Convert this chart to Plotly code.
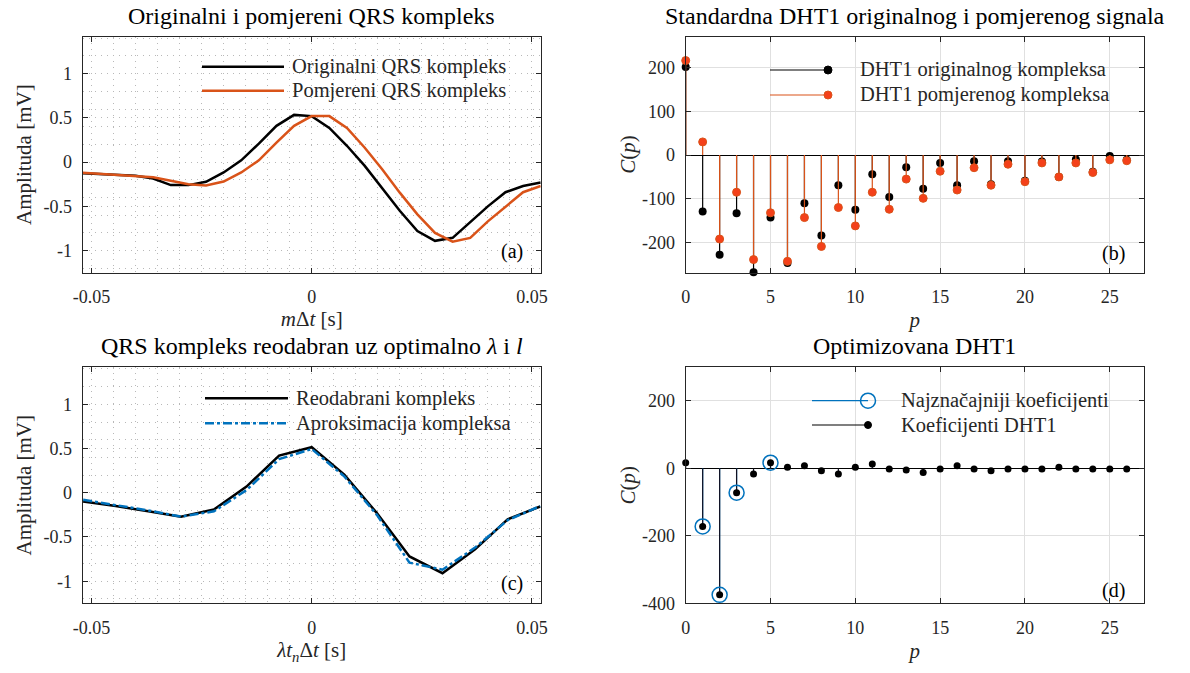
import plotly.graph_objects as go

W, H = 1190, 673
FONT = "Liberation Serif, Times New Roman, serif"
INK = "#262626"
ORANGE = "#d95319"
ORANGE_FACE = "#f4401a"
BLUE = "#0072bd"

# ---------------- data ----------------
t_a = [-0.052, -0.048, -0.044, -0.040, -0.036, -0.032, -0.028, -0.024, -0.020,
       -0.016, -0.012, -0.008, -0.004, 0.0, 0.004, 0.008, 0.012, 0.016, 0.020,
       0.024, 0.028, 0.032, 0.036, 0.040, 0.044, 0.048, 0.052]
orig_a = [-0.125, -0.136, -0.144, -0.155, -0.186, -0.26, -0.26, -0.223, -0.117,
          0.02, 0.21, 0.41, 0.534, 0.52, 0.386, 0.185, -0.04, -0.29, -0.55,
          -0.78, -0.89, -0.856, -0.68, -0.50, -0.34, -0.27, -0.23]
shift_a = [-0.12, -0.133, -0.142, -0.155, -0.17, -0.21, -0.25, -0.265, -0.22,
           -0.117, 0.02, 0.22, 0.41, 0.52, 0.52, 0.386, 0.165, -0.08, -0.345,
           -0.59, -0.80, -0.90, -0.856, -0.67, -0.50, -0.34, -0.27]

t_c = [-0.0519, -0.0445, -0.0371, -0.0297, -0.0222, -0.0148, -0.0074, 0.0,
       0.0074, 0.0148, 0.0222, 0.0297, 0.0371, 0.0445, 0.0519]
reod_c = [-0.10, -0.15, -0.21, -0.27, -0.19, 0.07, 0.42, 0.515, 0.205, -0.23,
          -0.72, -0.91, -0.64, -0.30, -0.155]
aprox_c = [-0.08, -0.14, -0.20, -0.27, -0.21, 0.03, 0.38, 0.495, 0.185, -0.25,
           -0.79, -0.87, -0.62, -0.31, -0.15]

p_idx = [0, 1, 2, 3, 4, 5, 6, 7, 8, 9, 10, 11, 12, 13, 14, 15, 16, 17, 18, 19,
         20, 21, 22, 23, 24, 25, 26]
dht_orig = [201, -129, -228, -133, -268, -143, -247, -110, -184, -69, -125, -44,
            -96, -28, -77, -18, -69, -14, -67, -14, -59, -15, -50, -10, -38, -2, -11]
dht_shift = [216, 30, -192, -85, -239, -132, -243, -143, -209, -120, -162, -85,
             -124, -55, -99, -37, -80, -29, -69, -21, -61, -18, -50, -18, -40, -11, -13]
dht_opt = [17, -172, -375, -72, -17, 17, 3, 8, -7, -17, 3, 13, -2, -5, -12, -2,
           8, -2, -7, -2, -2, -2, 3, -2, -2, -2, -2]
sig_p = [1, 2, 3, 5]

tick_t = [-0.05, 0, 0.05]
tick_t_text = ["-0.05", "0", "0.05"]
tick_amp = [-1, -0.5, 0, 0.5, 1]
tick_amp_text = ["-1", "-0.5", "0", "0.5", "1"]
tick_p = [0, 5, 10, 15, 20, 25]
tick_cb = [-200, -100, 0, 100, 200]
tick_cb_text = ["-200", "-100", "0", "100", "200"]
tick_cd = [-400, -200, 0, 200]
tick_cd_text = ["-400", "-200", "0", "200"]

titles = ["Originalni i pomjereni QRS kompleks",
          "Standardna DHT1 originalnog i pomjerenog signala",
          "QRS kompleks reodabran uz optimalno <i>λ</i> i <i>l</i>",
          "Optimizovana DHT1"]
legend_a = ["Originalni QRS kompleks", "Pomjereni QRS kompleks"]
legend_b = ["DHT1 originalnog kompleksa", "DHT1 pomjerenog kompleksa"]
legend_c = ["Reodabrani kompleks", "Aproksimacija kompleksa"]
legend_d = ["Najznačajniji koeficijenti", "Koeficijenti DHT1"]
panel_tags = ["(a)", "(b)", "(c)", "(d)"]


def stems(xs, ys):
    sx, sy = [], []
    for x, y in zip(xs, ys):
        sx += [x, x, None]
        sy += [0, y, None]
    return sx, sy


def PX(x):
    return x / W


def PY(y):
    return 1 - y / H


fig = go.Figure()

# (a)
fig.add_trace(go.Scatter(x=t_a, y=orig_a, mode="lines", name=legend_a[0],
                         line=dict(color="black", width=2.5), xaxis="x", yaxis="y", showlegend=False))
fig.add_trace(go.Scatter(x=t_a, y=shift_a, mode="lines", name=legend_a[1],
                         line=dict(color=ORANGE, width=2.5), xaxis="x", yaxis="y", showlegend=False))

# (b)
sx, sy = stems(p_idx, dht_orig)
fig.add_trace(go.Scatter(x=sx, y=sy, mode="lines", line=dict(color="black", width=1.2),
                         xaxis="x2", yaxis="y2", showlegend=False, hoverinfo="skip"))
fig.add_trace(go.Scatter(x=p_idx, y=dht_orig, mode="markers", name=legend_b[0],
                         marker=dict(color="black", size=8), cliponaxis=False,
                         xaxis="x2", yaxis="y2", showlegend=False))
sx, sy = stems(p_idx, dht_shift)
fig.add_trace(go.Scatter(x=sx, y=sy, mode="lines", line=dict(color=ORANGE, width=1.2),
                         xaxis="x2", yaxis="y2", showlegend=False, hoverinfo="skip"))
fig.add_trace(go.Scatter(x=p_idx, y=dht_shift, mode="markers", name=legend_b[1],
                         marker=dict(color=ORANGE_FACE, size=8, line=dict(color=ORANGE, width=1)),
                         cliponaxis=False, xaxis="x2", yaxis="y2", showlegend=False))

# (c)
fig.add_trace(go.Scatter(x=t_c, y=reod_c, mode="lines", name=legend_c[0],
                         line=dict(color="black", width=2.5), xaxis="x3", yaxis="y3", showlegend=False))
fig.add_trace(go.Scatter(x=t_c, y=aprox_c, mode="lines", name=legend_c[1],
                         line=dict(color=BLUE, width=2.5, dash="9px,3px,3px,3px"),
                         xaxis="x3", yaxis="y3", showlegend=False))

# (d)
sig_v = [dht_opt[p_idx.index(k)] for k in sig_p]
sx, sy = stems(sig_p, sig_v)
fig.add_trace(go.Scatter(x=sx, y=sy, mode="lines", line=dict(color=BLUE, width=1.2),
                         xaxis="x4", yaxis="y4", showlegend=False, hoverinfo="skip"))
sx, sy = stems(p_idx, dht_opt)
fig.add_trace(go.Scatter(x=sx, y=sy, mode="lines", line=dict(color="#111122", width=1.2),
                         xaxis="x4", yaxis="y4", showlegend=False, hoverinfo="skip"))
fig.add_trace(go.Scatter(x=sig_p, y=sig_v, mode="markers", name=legend_d[0],
                         marker=dict(symbol="circle-open", color=BLUE, size=15, line=dict(width=1.5)),
                         cliponaxis=False, xaxis="x4", yaxis="y4", showlegend=False))
fig.add_trace(go.Scatter(x=p_idx, y=dht_opt, mode="markers", name=legend_d[1],
                         marker=dict(color="black", size=7), cliponaxis=False,
                         xaxis="x4", yaxis="y4", showlegend=False))

XA = [PX(82.7), PX(540.7)]
XB = [PX(685.7), PX(1143.7)]
YT = [PY(272.7), PY(36.5)]
YB = [PY(603.3), PY(367.2)]

base = dict(showline=True, linecolor=INK, linewidth=1, mirror="ticks", ticks="inside",
            ticklen=5, tickcolor=INK, tickwidth=1, zeroline=False, automargin=False,
            tickfont=dict(family=FONT, size=18, color=INK),
            title_font=dict(family=FONT, size=21, color=INK))
DOT = "1px,5px"
DOTC = "#b8b8b8"

x_time = dict(base, range=[-0.052, 0.052], tickmode="array", tickvals=tick_t, ticktext=tick_t_text,
              showgrid=True, gridcolor=DOTC, griddash=DOT, gridwidth=1,
              minor=dict(tick0=0, dtick=0.005, showgrid=True, gridcolor=DOTC, griddash=DOT, gridwidth=1),
              ticklabelstandoff=8, title_standoff=5)
y_amp = dict(base, range=[-1.25, 1.42], tickmode="array", tickvals=tick_amp, ticktext=tick_amp_text,
             showgrid=True, gridcolor=DOTC, griddash=DOT, gridwidth=1,
             minor=dict(tick0=0, dtick=0.2, showgrid=True, gridcolor=DOTC, griddash=DOT, gridwidth=1),
             ticklabelstandoff=6, title_standoff=6)
x_p = dict(base, range=[0, 27], tickmode="array", tickvals=tick_p,
           showgrid=True, gridcolor="#e0e0e0", gridwidth=1.2,
           ticklabelstandoff=8, title_standoff=6)
y_c = dict(base, showgrid=True, gridcolor="#e0e0e0", gridwidth=1.2,
           zeroline=True, zerolinecolor="black", zerolinewidth=1.2,
           ticklabelstandoff=6, title_standoff=0)

fig.update_layout(
    template="none",
    width=W, height=H, margin=dict(l=0, r=0, t=0, b=0, pad=0, autoexpand=False),
    paper_bgcolor="white", plot_bgcolor="white", showlegend=False,
    font=dict(family=FONT, color=INK),
    xaxis=dict(x_time, domain=XA, anchor="y", title_text="<i>m</i>Δ<i>t</i> [s]"),
    yaxis=dict(y_amp, domain=YT, anchor="x", title_text="Amplituda [mV]"),
    xaxis2=dict(x_p, domain=XB, anchor="y2", title_text="<i>p</i>"),
    yaxis2=dict(y_c, domain=YT, anchor="x2", range=[-269, 271], tickmode="array",
                tickvals=tick_cb, ticktext=tick_cb_text, title_text="<i>C</i>(<i>p</i>)"),
    xaxis3=dict(x_time, domain=XA, anchor="y3", title_text="<i>λt<sub>n</sub></i>Δ<i>t</i> [s]"),
    yaxis3=dict(y_amp, domain=YB, anchor="x3", title_text="Amplituda [mV]"),
    xaxis4=dict(x_p, domain=XB, anchor="y4", title_text="<i>p</i>"),
    yaxis4=dict(y_c, domain=YB, anchor="x4", range=[-400, 300], tickmode="array",
                tickvals=tick_cd, ticktext=tick_cd_text, title_text="<i>C</i>(<i>p</i>)"),
)

ann = []
shapes = []
# subplot titles
for txt, cx, cy in zip(titles, [311.7, 914.7, 311.7, 914.7], [16, 16, 346, 346]):
    ann.append(dict(text=txt, x=PX(cx), y=PY(cy), xref="paper", yref="paper",
                    xanchor="center", yanchor="middle", showarrow=False,
                    font=dict(family=FONT, size=24, color="black")))
# panel tags
for txt, cx, cy in zip(panel_tags, [512, 1113, 512, 1113], [251, 253, 583, 590]):
    ann.append(dict(text=txt, x=PX(cx), y=PY(cy), xref="paper", yref="paper",
                    xanchor="center", yanchor="middle", showarrow=False,
                    font=dict(family=FONT, size=20, color="black")))


def leg_text(txt, x, y):
    ann.append(dict(text=txt, x=PX(x), y=PY(y), xref="paper", yref="paper",
                    xanchor="left", yanchor="middle", showarrow=False,
                    font=dict(family=FONT, size=20.5, color=INK)))


def leg_line(x0, x1, y, color, width, dash="solid"):
    shapes.append(dict(type="line", xref="paper", yref="paper", x0=PX(x0), x1=PX(x1),
                       y0=PY(y), y1=PY(y), line=dict(color=color, width=width, dash=dash)))


def leg_dot(x, y, d, fill, edge, lw=1):
    shapes.append(dict(type="circle", xref="paper", yref="paper", xsizemode="pixel",
                       ysizemode="pixel", xanchor=PX(x), yanchor=PY(y),
                       x0=-d / 2, x1=d / 2, y0=-d / 2, y1=d / 2,
                       fillcolor=fill, line=dict(color=edge, width=lw)))


# legend (a)
leg_line(202, 284, 66.7, "black", 2.5)
leg_line(202, 284, 90.7, ORANGE, 2.5)
leg_text(legend_a[0], 290, 66.7)
leg_text(legend_a[1], 290, 90.7)
# legend (b)
leg_line(770, 828, 70, "black", 1.2)
leg_dot(828, 70, 8, "black", "black")
leg_line(770, 828, 95, ORANGE, 1.2)
leg_dot(828, 95, 8, ORANGE_FACE, ORANGE)
leg_text(legend_b[0], 858, 70)
leg_text(legend_b[1], 858, 95)
# legend (c)
leg_line(205, 288, 398.3, "black", 2.5)
leg_line(205, 288, 423.3, BLUE, 2.5, "9px,3px,3px,3px")
leg_text(legend_c[0], 294, 398.3)
leg_text(legend_c[1], 294, 423.3)
# legend (d)
leg_line(812, 868, 400.7, BLUE, 1.2)
leg_dot(868, 400.7, 15, "rgba(0,0,0,0)", BLUE, 1.5)
leg_line(812, 868, 425, "black", 1.2)
leg_dot(868, 425, 7, "black", "black")
leg_text(legend_d[0], 899, 400.7)
leg_text(legend_d[1], 899, 425)

fig.update_layout(annotations=ann, shapes=shapes)

fig.write_html("out.html", config={"displayModeBar": False},
               post_script="document.body.style.margin='0';")
